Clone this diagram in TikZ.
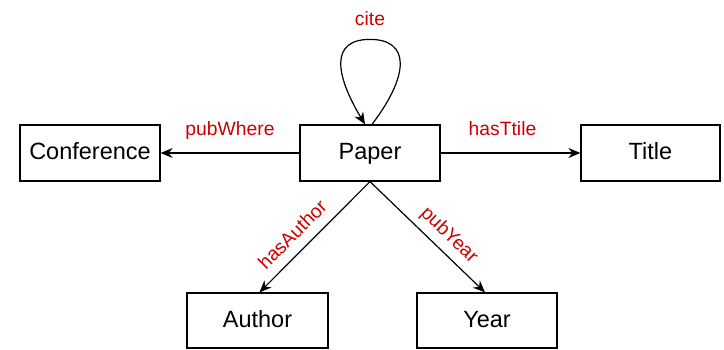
\documentclass[tikz,border=0pt]{standalone}
\usepackage{fontspec}
\setmainfont{Liberation Sans}
\usetikzlibrary{arrows.meta}
\definecolor{labelred}{RGB}{204,0,0}
\tikzset{
	entity/.style = {draw, line width=1.2pt, minimum width=140pt, minimum height=56pt, inner sep=0pt, text height=17pt, text depth=4pt, font=\fontsize{23.5}{26}\selectfont},
	rel/.style = {-{Stealth[length=12pt, width=10pt]}, line width=1.2pt},
	rellabel/.style = {text=labelred, text depth=4pt, font=\fontsize{19.3}{21}\selectfont}
}
\begin{document}
\begin{tikzpicture}[x=1pt, y=-1pt]
			\useasboundingbox (0,0) rectangle (724,350);
			%entities
			\node[entity] (paper) at (370,153) {Paper};
			\node[entity] (conf) at (90,153) {Conference};
			\node[entity, minimum width=139pt] (title) at (650.5,153) {Title};
			\node[entity, minimum width=141pt, minimum height=55pt] (author) at (257.5,320.5) {Author};
			\node[entity, minimum height=55pt] (year) at (487,320.5) {Year};
			%relations
			\draw[rel] (paper) -- node[rellabel, midway, above=10pt] {pubWhere} (conf);
			\draw[rel] (paper) -- node[rellabel, midway, above=10pt, xshift=-8pt] {hasTtile} (title);
			\draw[rel] (paper.south) -- node[rellabel, pos=0.59, sloped, above=3pt] {hasAuthor} ([xshift=2pt]author.north);
			\draw[rel] (paper.south) -- node[rellabel, pos=0.59, sloped, above=3pt] {pubYear} ([xshift=-2pt]year.north);
			%self loop
			\draw[rel] ([xshift=2pt]paper.north) .. controls +(38,-50) and +(40,0) .. ([yshift=85pt]paper.north) node[rellabel, above=6pt] {cite} .. controls +(-40,0) and +(-30,-50) .. ([xshift=-5pt]paper.north);
		\end{tikzpicture}
\end{document}
